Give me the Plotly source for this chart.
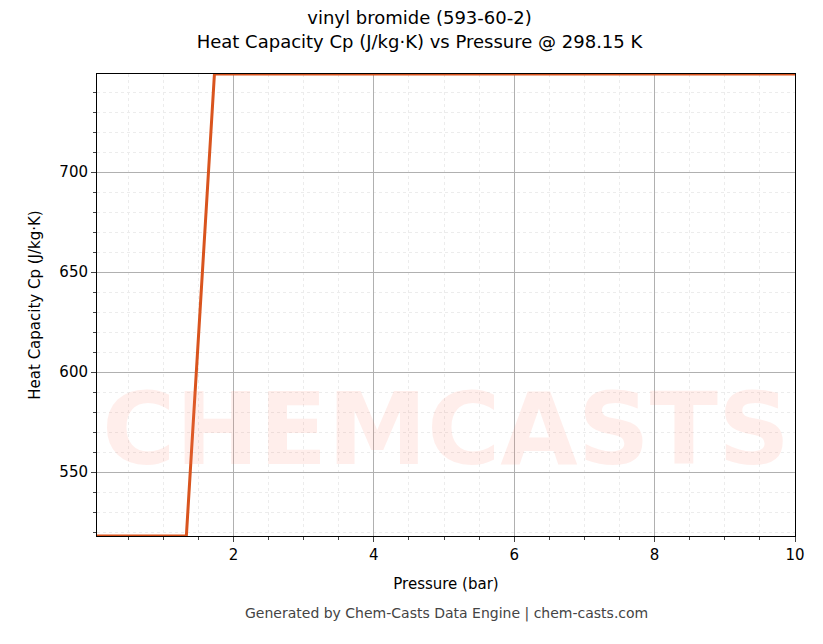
import plotly.graph_objects as go

pressure = [0.057, 1.33, 1.73, 10.0]
cp = [518.0, 518.0, 749.0, 749.0]

fig = go.Figure()
fig.add_trace(go.Scatter(x=pressure, y=cp, mode="lines",
                         line=dict(color="#d9541e", width=3), showlegend=False))
fig.add_annotation(text="<b>CHEMCASTS</b>", x=0.5, y=0.1, xref="paper", yref="paper",
                   showarrow=False, font=dict(size=100, color="rgba(255,120,100,0.13)", family="DejaVu Sans"))
fig.add_annotation(text="Generated by Chem-Casts Data Engine | chem-casts.com",
                   x=0.5, y=-0.19, xref="paper", yref="paper", showarrow=False,
                   font=dict(size=14, color="#444"))
ax = dict(showline=True, linecolor="black", mirror=True, ticks="outside",
          gridcolor="#b0b0b0", gridwidth=0.8, zeroline=False,
          minor=dict(ticks="outside", showgrid=True, gridcolor="#ececec", griddash="dot", ticklen=3),
          tickfont=dict(size=15, color="black"))
fig.update_xaxes(**ax, range=[0.057, 10], tickvals=[2, 4, 6, 8, 10], minor_dtick=0.5,
                 title=dict(text="Pressure (bar)", font=dict(size=15, color="black")))
fig.update_yaxes(**ax, range=[518, 749], dtick=50, minor_dtick=10,
                 title=dict(text="Heat Capacity Cp (J/kg·K)", font=dict(size=15, color="black")))
fig.update_layout(width=823, height=644, plot_bgcolor="white", paper_bgcolor="white",
                  font=dict(family="DejaVu Sans"),
                  margin=dict(l=89, r=36, t=66, b=116),
                  title=dict(text="vinyl bromide (593-60-2)<br>Heat Capacity Cp (J/kg·K) vs Pressure @ 298.15 K",
                             x=0.5, xanchor="center", y=0.975, font=dict(size=18, color="black")))
fig.write_html("out.html")
